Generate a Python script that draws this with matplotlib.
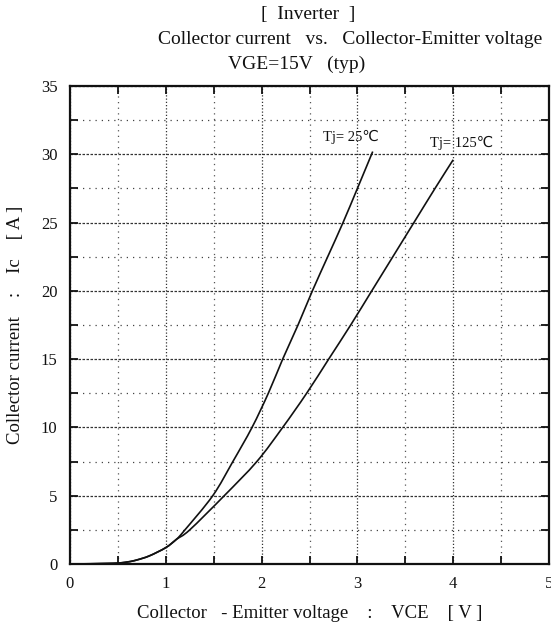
import matplotlib
matplotlib.use("Agg")
import matplotlib.pyplot as plt
import numpy as np
from matplotlib.path import Path
from matplotlib.patches import PathPatch
from matplotlib.ticker import MultipleLocator

# Output characteristics Ic vs VCE at VGE = 15 V
vce_25 = [0.0, 0.45, 0.6, 0.7, 0.83, 1.0, 1.11, 1.20, 1.49, 1.70, 1.90, 2.07, 2.22,
          2.38, 2.53, 2.69, 2.85, 3.0, 3.16]
ic_25 = [0.0, 0.05, 0.15, 0.3, 0.6, 1.2, 1.8, 2.5, 5.0, 7.5, 10.0, 12.5, 15.0,
         17.5, 20.0, 22.5, 25.0, 27.5, 30.2]

vce_125 = [0.0, 0.45, 0.6, 0.7, 0.83, 1.0, 1.11, 1.25, 1.61, 1.95, 2.22, 2.47, 2.70,
           2.93, 3.15, 3.37, 3.59, 3.81, 4.0]
ic_125 = [0.0, 0.05, 0.15, 0.3, 0.6, 1.2, 1.8, 2.5, 5.0, 7.5, 10.0, 12.5, 15.0,
          17.5, 20.0, 22.5, 25.0, 27.5, 29.6]

x_ticks = [0, 1, 2, 3, 4, 5]
y_ticks = [0, 5, 10, 15, 20, 25, 30, 35]

title_lines = ["[  Inverter  ]",
               "Collector current   vs.   Collector-Emitter voltage",
               "VGE=15V   (typ)"]
xlabel = "Collector   - Emitter voltage    :    VCE    [ V ]"
ylabel = "Collector current    :    Ic    [ A ]"
curve_labels = ["Tj= 25\u2103", "Tj= 125\u2103"]

serif = ["Liberation Serif", "DejaVu Sans"]
ink = "#111111"


def smooth_path(xs, ys):
    """Bezier path passing through every (x, y) point (Catmull-Rom tangents)."""
    p = np.column_stack([xs, ys]).astype(float)
    verts = [p[0]]
    codes = [Path.MOVETO]
    n = len(p)
    for i in range(n - 1):
        p0 = p[i - 1] if i > 0 else p[i]
        p1, p2 = p[i], p[i + 1]
        p3 = p[i + 2] if i + 2 < n else p[i + 1]
        c1 = p1 + (p2 - p0) / 6.0
        c2 = p2 - (p3 - p1) / 6.0
        verts += [c1, c2, p2]
        codes += [Path.CURVE4] * 3
    return Path(verts, codes)


fig = plt.figure(figsize=(5.51, 6.24), dpi=100)
ax = fig.add_axes([70 / 551, 60 / 624, 479 / 551, 478 / 624])

ax.set_xlim(0, 5)
ax.set_ylim(0, 35)
ax.xaxis.set_major_locator(MultipleLocator(1))
ax.xaxis.set_minor_locator(MultipleLocator(0.5))
ax.yaxis.set_major_locator(MultipleLocator(5))
ax.yaxis.set_minor_locator(MultipleLocator(2.5))
ax.set_xticks(x_ticks)
ax.set_yticks(y_ticks)

# grid: denser dashes on major lines, sparse dots on the half steps
ax.grid(which="major", axis="y", color="#333333", linestyle=(0, (2.0, 1.2)), linewidth=0.9)
ax.grid(which="minor", axis="y", color="#444444", linestyle=(0, (1.0, 4.0)), linewidth=0.9)
ax.grid(which="major", axis="x", color="#333333", linestyle=(0, (1.0, 1.6)), linewidth=0.9)
ax.grid(which="minor", axis="x", color="#555555", linestyle=(0, (1.0, 3.5)), linewidth=0.9)
ax.set_axisbelow(True)

for s in ax.spines.values():
    s.set_linewidth(1.6)
    s.set_color(ink)

ax.tick_params(which="both", direction="in", top=True, right=True,
               length=6, width=1.3, color=ink)
ax.tick_params(which="major", pad=9, labelsize=12)
for lbl in ax.get_xticklabels() + ax.get_yticklabels():
    lbl.set_family(serif)
    lbl.set_color(ink)

for xs, ys in [(vce_25, ic_25), (vce_125, ic_125)]:
    ax.add_patch(PathPatch(smooth_path(xs, ys), facecolor="none", edgecolor=ink,
                           linewidth=1.2, zorder=3, transform=ax.transData))

ax.text(2.64, 31.3, curve_labels[0], family=serif, fontsize=10.5, color=ink,
        ha="left", va="center")
ax.text(3.76, 30.8, curve_labels[1], family=serif, fontsize=10.5, color=ink,
        ha="left", va="center")

ax.set_xlabel(xlabel, family=serif, fontsize=13.5, color=ink, labelpad=9)
ax.set_ylabel(ylabel, family=serif, fontsize=13.5, color=ink, labelpad=12)

fig.text(308 / 551, 1 - 15 / 624, title_lines[0], family=serif, fontsize=14,
         color=ink, ha="center", va="center")
fig.text(350 / 551, 1 - 40 / 624, title_lines[1], family=serif, fontsize=14,
         color=ink, ha="center", va="center")
fig.text(297 / 551, 1 - 64 / 624, title_lines[2], family=serif, fontsize=14,
         color=ink, ha="center", va="center")

fig.savefig("out.png", dpi=100, facecolor="white")
